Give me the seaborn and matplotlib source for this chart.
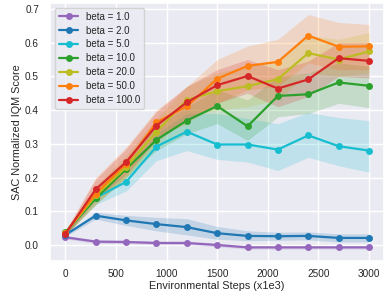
import seaborn as sns
import matplotlib.pyplot as plt
import pandas as pd

# 데이터
steps = [0, 300, 600, 900, 1200, 1500, 1800, 2100, 2400, 2700, 3000]
betas = ["1.0", "2.0", "5.0", "10.0", "20.0", "50.0", "100.0"]
colors = ["tab:purple", "tab:blue", "tab:cyan", "tab:green", "tab:olive", "tab:orange", "tab:red"]

beta_1 = [0.023, 0.010, 0.009, 0.006, 0.006, 0.000, -0.007, -0.007, -0.007, -0.007, -0.007]
beta_1_lo = [0.018, 0.005, 0.004, 0.001, 0.001, -0.005, -0.012, -0.012, -0.012, -0.012, -0.012]
beta_1_hi = [0.028, 0.015, 0.014, 0.011, 0.011, 0.005, -0.002, -0.002, -0.002, -0.002, -0.002]

beta_2 = [0.030, 0.087, 0.073, 0.062, 0.053, 0.035, 0.027, 0.026, 0.027, 0.021, 0.021]
beta_2_lo = [0.025, 0.077, 0.058, 0.042, 0.030, 0.017, 0.013, 0.014, 0.015, 0.009, 0.009]
beta_2_hi = [0.035, 0.097, 0.088, 0.082, 0.078, 0.055, 0.042, 0.038, 0.039, 0.033, 0.033]

beta_5 = [0.035, 0.140, 0.187, 0.292, 0.336, 0.298, 0.298, 0.283, 0.325, 0.293, 0.280]
beta_5_lo = [0.030, 0.120, 0.160, 0.250, 0.280, 0.254, 0.246, 0.221, 0.260, 0.235, 0.216]
beta_5_hi = [0.040, 0.160, 0.210, 0.330, 0.390, 0.390, 0.375, 0.360, 0.393, 0.378, 0.369]

beta_10 = [0.038, 0.138, 0.225, 0.312, 0.369, 0.412, 0.352, 0.442, 0.447, 0.482, 0.472]
beta_10_lo = [0.030, 0.120, 0.200, 0.280, 0.330, 0.360, 0.310, 0.380, 0.390, 0.420, 0.407]
beta_10_hi = [0.045, 0.160, 0.250, 0.350, 0.410, 0.460, 0.430, 0.500, 0.510, 0.540, 0.530]

beta_20 = [0.035, 0.147, 0.231, 0.336, 0.430, 0.456, 0.471, 0.492, 0.569, 0.550, 0.574]
beta_20_lo = [0.028, 0.125, 0.200, 0.300, 0.380, 0.400, 0.410, 0.430, 0.510, 0.500, 0.510]
beta_20_hi = [0.042, 0.175, 0.265, 0.375, 0.470, 0.510, 0.530, 0.550, 0.620, 0.610, 0.630]

beta_50 = [0.035, 0.152, 0.241, 0.364, 0.411, 0.493, 0.531, 0.543, 0.621, 0.588, 0.589]
beta_50_lo = [0.028, 0.120, 0.200, 0.320, 0.360, 0.420, 0.460, 0.470, 0.540, 0.520, 0.520]
beta_50_hi = [0.042, 0.200, 0.290, 0.400, 0.470, 0.550, 0.590, 0.610, 0.683, 0.660, 0.654]

beta_100 = [0.033, 0.165, 0.246, 0.354, 0.423, 0.474, 0.501, 0.464, 0.491, 0.554, 0.546]
beta_100_lo = [0.026, 0.135, 0.210, 0.310, 0.370, 0.420, 0.450, 0.410, 0.440, 0.500, 0.495]
beta_100_hi = [0.040, 0.195, 0.285, 0.395, 0.470, 0.520, 0.550, 0.520, 0.545, 0.600, 0.600]

means = [beta_1, beta_2, beta_5, beta_10, beta_20, beta_50, beta_100]
lows = [beta_1_lo, beta_2_lo, beta_5_lo, beta_10_lo, beta_20_lo, beta_50_lo, beta_100_lo]
highs = [beta_1_hi, beta_2_hi, beta_5_hi, beta_10_hi, beta_20_hi, beta_50_hi, beta_100_hi]

sns.set_theme(style="darkgrid")
plt.rcParams['font.family'] = ['Liberation Sans', 'DejaVu Sans']

fig, ax = plt.subplots(figsize=(3.92, 2.94), dpi=100)

for b, c, m, lo, hi in zip(betas, colors, means, lows, highs):
    df = pd.DataFrame({"step": steps, "score": m})
    sns.lineplot(data=df, x="step", y="score", color=c, marker="o",
                 markersize=5, markeredgewidth=0, linewidth=1.6,
                 label=f"beta = {b}", ax=ax)
    ax.fill_between(steps, lo, hi, color=c, alpha=0.2, linewidth=0)

ax.set_xlabel("Environmental Steps (x1e3)", fontsize=7.8, labelpad=1.2)
ax.set_ylabel("SAC Normalized IQM Score", fontsize=7.8, labelpad=2)
ax.set_xticks(range(0, 3001, 500))
ax.set_yticks([0.0, 0.1, 0.2, 0.3, 0.4, 0.5, 0.6, 0.7])
ax.tick_params(labelsize=7.2)
ax.tick_params(axis="x", pad=0)
ax.tick_params(axis="y", pad=2)
ax.legend(loc="upper left", fontsize=7, labelspacing=0.4)

plt.subplots_adjust(left=0.128, right=0.98, top=0.99, bottom=0.113)
plt.savefig("out.png", dpi=100)
